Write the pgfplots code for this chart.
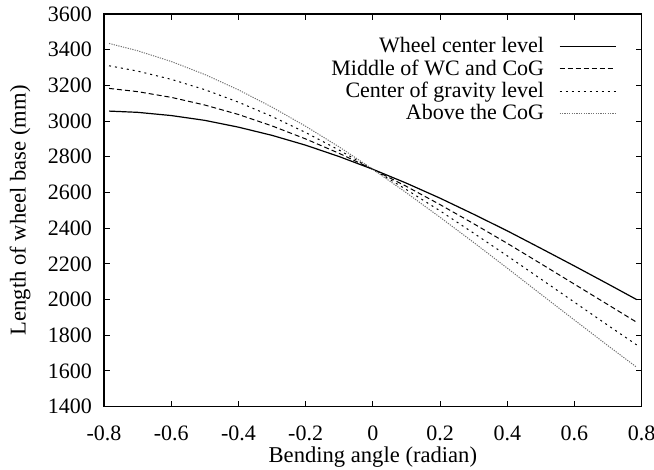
\documentclass[border=0pt]{standalone}
\usepackage{pgfplots}
\pgfplotsset{compat=1.18}
\usepackage{fontspec}
\setmainfont{Liberation Serif}

\begin{document}
\begin{tikzpicture}
\begin{axis}[
  scale only axis,
  width=268.8pt, height=196.3pt,
  xmin=-0.8, xmax=0.8,
  ymin=1400, ymax=3600,
  xtick={-0.8,-0.6,...,0.8},
  ytick={1400,1600,...,3600},
  tick align=inside,
  major tick length=3pt,
  tick style={black, line width=0.5pt},
  axis line style={line width=0.6pt},
  /pgf/number format/assume math mode=true,
  /pgf/number format/1000 sep={},
  xticklabel style={font=\fontsize{11}{13}\selectfont, yshift=-6pt},
  yticklabel style={font=\fontsize{11}{13}\selectfont, xshift=-2.5pt},
  xlabel={Bending angle (radian)},
  ylabel={Length of wheel base (mm)},
  label style={font=\fontsize{11.3}{13}\selectfont},
  xlabel style={at={(axis description cs:0.5,-0.128)}, anchor=center},
  ylabel style={at={(axis description cs:-0.156,0.5)}, anchor=center},
  legend style={draw=none, fill=none, at={(axis description cs:1,1)},
    anchor=north east, xshift=-12.5pt, yshift=-9.5pt,
    font=\fontsize{11}{13}\selectfont, row sep=-2pt, column sep=5.5pt,
    cells={anchor=east}, inner sep=0pt},
  legend plot pos=right,
  legend image code/.code={\draw[#1] (0pt,0pt) -- (28pt,0pt);},
  every axis plot/.append style={line width=0.6pt},
]
% Wheel base for four heights of the articulation joint
\addplot[black, solid] coordinates {
(-0.785,3056) (-0.7,3049) (-0.6,3031) (-0.5,3004) (-0.4,2966) (-0.3,2920)
(-0.2,2865) (-0.1,2801) (0,2730) (0.1,2652) (0.2,2568) (0.3,2478)
(0.4,2385) (0.5,2287) (0.6,2188) (0.7,2087) (0.785,2000)};
\addlegendentry{Wheel center level}
\addplot[black, dash pattern=on 2.5pt off 1.5pt, line width=0.5pt] coordinates {
(-0.785,3183) (-0.7,3165) (-0.6,3133) (-0.5,3090) (-0.4,3037) (-0.3,2973)
(-0.2,2900) (-0.1,2819) (0,2730) (0.1,2634) (0.2,2532) (0.3,2425)
(0.4,2315) (0.5,2201) (0.6,2086) (0.7,1971) (0.785,1873)};
\addlegendentry{Middle of WC and CoG}
\addplot[black, dash pattern=on 1pt off 2pt, line width=0.5pt] coordinates {
(-0.785,3310) (-0.7,3280) (-0.6,3234) (-0.5,3176) (-0.4,3106) (-0.3,3026)
(-0.2,2936) (-0.1,2837) (0,2730) (0.1,2616) (0.2,2497) (0.3,2372)
(0.4,2245) (0.5,2115) (0.6,1985) (0.7,1855) (0.785,1746)};
\addlegendentry{Center of gravity level}
\addplot[black!55, dash pattern=on 0.6pt off 0.6pt, line width=0.5pt] coordinates {
(-0.785,3435) (-0.7,3394) (-0.6,3334) (-0.5,3261) (-0.4,3175) (-0.3,3078)
(-0.2,2971) (-0.1,2855) (0,2730) (0.1,2598) (0.2,2461) (0.3,2320)
(0.4,2176) (0.5,2030) (0.6,1885) (0.7,1741) (0.785,1621)};
\addlegendentry{Above the CoG}
\end{axis}
% page frame around the axis box and its labels
\pgfresetboundingbox
\path[use as bounding box]
  ([xshift=-52pt,yshift=-31.65pt]current axis.south west)
  rectangle ([xshift=6.15pt,yshift=7pt]current axis.north east);
\end{tikzpicture}
\end{document}
